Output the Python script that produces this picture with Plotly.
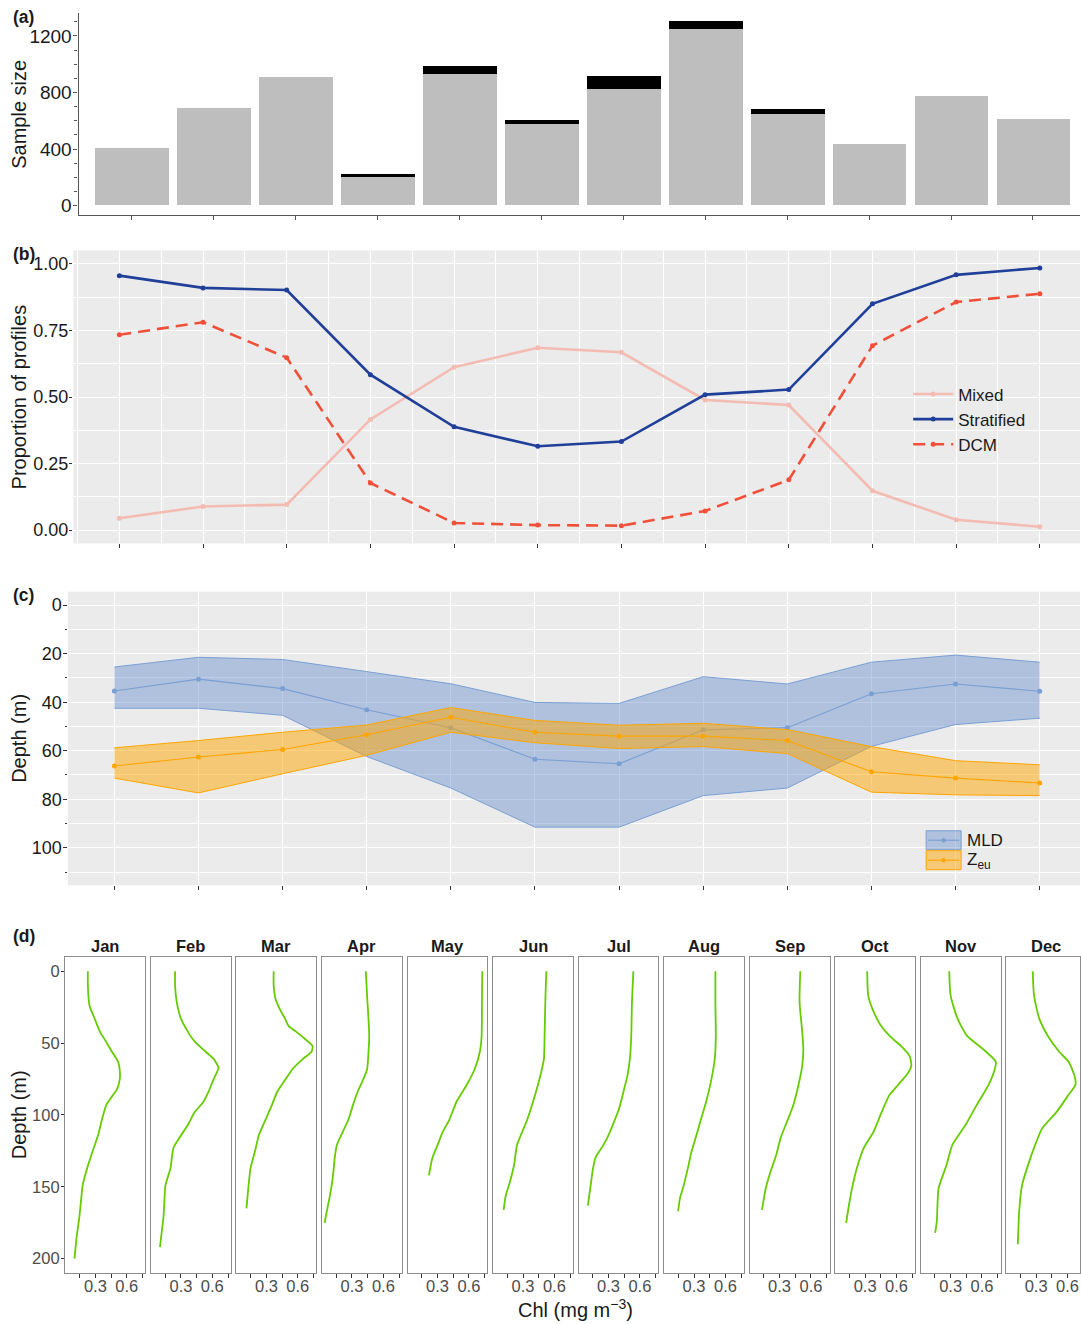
import plotly.graph_objects as go

W, H = 1081, 1324
FONT = "Liberation Sans, Arial, Helvetica, sans-serif"

# ---------------- data ----------------
months = list(range(1, 13))
month_labels = ["Jan", "Feb", "Mar", "Apr", "May", "Jun", "Jul", "Aug", "Sep", "Oct", "Nov", "Dec"]

# (a) sample size
n_main = [407, 689, 908, 207, 927, 572, 824, 1245, 649, 435, 774, 614]
n_extra = [0, 0, 0, 12, 59, 35, 94, 56, 33, 0, 0, 0]

# (b) proportion of profiles
prop_mixed = [0.045, 0.089, 0.096, 0.416, 0.612, 0.685, 0.668, 0.489, 0.470, 0.148, 0.039, 0.013]
prop_strat = [0.956, 0.910, 0.902, 0.584, 0.388, 0.315, 0.333, 0.509, 0.528, 0.850, 0.959, 0.985]
prop_dcm = [0.734, 0.781, 0.648, 0.177, 0.027, 0.019, 0.017, 0.072, 0.189, 0.693, 0.857, 0.888]

# (c) depths (m)
mld_med = [35.4, 30.5, 34.4, 43.1, 50.5, 63.5, 65.4, 51.4, 50.5, 36.5, 32.5, 35.5]
mld_lo = [25.5, 21.5, 22.4, 27.4, 32.4, 40.1, 40.5, 29.5, 32.5, 23.5, 20.6, 23.5]
mld_hi = [42.5, 42.5, 45.4, 62.4, 75.4, 91.5, 91.5, 78.5, 75.4, 58.2, 49.2, 46.6]
zeu_med = [66.3, 62.6, 59.5, 53.4, 46.2, 52.4, 54.0, 54.0, 55.8, 68.7, 71.3, 73.3]
zeu_lo = [58.8, 55.8, 52.4, 49.4, 42.2, 47.5, 49.5, 48.7, 51.3, 58.3, 64.1, 65.8]
zeu_hi = [71.3, 77.4, 69.5, 61.9, 52.4, 56.7, 59.1, 58.3, 61.2, 77.1, 78.2, 78.5]

# (d) mean chlorophyll profiles
jan_depth = [0, 10, 24, 33, 42, 49, 56, 63, 70, 75, 82, 89, 93, 103, 114, 126, 137, 149, 160, 172, 184, 200]
jan_chl = [0.228, 0.228, 0.244, 0.293, 0.343, 0.402, 0.458, 0.517, 0.534, 0.533, 0.507, 0.44, 0.405, 0.363, 0.326, 0.27, 0.221, 0.178, 0.162, 0.145, 0.122, 0.10]
feb_depth = [0, 10, 21.5, 33, 42, 49, 56, 61, 67, 70, 75, 84, 91, 98, 107, 116, 123, 137, 149, 160, 172, 184, 192]
feb_chl = [0.244, 0.244, 0.26, 0.30, 0.366, 0.432, 0.537, 0.613, 0.659, 0.646, 0.613, 0.563, 0.514, 0.432, 0.366, 0.284, 0.228, 0.20, 0.152, 0.142, 0.132, 0.112, 0.10]
mar_depth = [0, 10, 19, 26, 33, 38, 42, 47, 52, 56, 61, 68, 75, 84, 93, 103, 114, 126, 137, 149, 165]
mar_chl = [0.369, 0.369, 0.386, 0.425, 0.478, 0.511, 0.583, 0.666, 0.741, 0.731, 0.649, 0.55, 0.484, 0.402, 0.353, 0.293, 0.228, 0.188, 0.148, 0.129, 0.109]
apr_depth = [0, 21.5, 33, 45, 56, 68, 75, 84, 93, 103, 112, 121, 130, 140, 149, 160, 172, 175]
apr_chl = [0.432, 0.448, 0.458, 0.465, 0.458, 0.445, 0.409, 0.353, 0.31, 0.267, 0.211, 0.155, 0.135, 0.122, 0.106, 0.079, 0.046, 0.040]
may_depth = [0, 21.5, 45, 56, 68, 79, 91, 103, 112, 121, 130, 142]
may_chl = [0.728, 0.725, 0.722, 0.705, 0.656, 0.58, 0.481, 0.415, 0.349, 0.30, 0.251, 0.218]
jun_depth = [0, 19, 42, 61, 68, 79, 91, 103, 113, 121, 135, 147, 156, 166]
jun_chl = [0.523, 0.514, 0.507, 0.50, 0.481, 0.443, 0.395, 0.342, 0.285, 0.242, 0.214, 0.173, 0.135, 0.115]
jul_depth = [0, 21.5, 45, 61, 72.5, 84, 96, 107, 114, 121, 130, 137, 149, 163]
jul_chl = [0.537, 0.524, 0.517, 0.504, 0.481, 0.442, 0.399, 0.34, 0.30, 0.25, 0.174, 0.152, 0.129, 0.102]
aug_depth = [0, 21.5, 45, 61, 77, 91, 103, 114, 126, 137, 149, 158, 167]
aug_chl = [0.504, 0.504, 0.508, 0.498, 0.461, 0.415, 0.366, 0.323, 0.274, 0.241, 0.201, 0.165, 0.148]
sep_depth = [0, 21.5, 40, 54, 65.5, 79, 93, 105, 116, 128, 140, 151, 166]
sep_chl = [0.498, 0.491, 0.514, 0.527, 0.517, 0.481, 0.432, 0.369, 0.31, 0.267, 0.211, 0.168, 0.132]
oct_depth = [0, 17, 26, 38, 45, 52, 59, 65.5, 71, 79, 86, 98, 112, 123, 137, 149, 163, 175]
oct_chl = [0.32, 0.33, 0.369, 0.452, 0.534, 0.643, 0.725, 0.742, 0.709, 0.616, 0.534, 0.458, 0.379, 0.287, 0.221, 0.181, 0.145, 0.119]
nov_depth = [0, 17, 33, 45, 54, 63, 70, 79, 93, 107, 121, 135, 151, 174, 182]
nov_chl = [0.287, 0.30, 0.366, 0.458, 0.607, 0.732, 0.715, 0.663, 0.55, 0.442, 0.316, 0.26, 0.185, 0.168, 0.152]
dec_depth = [0, 17, 33, 45, 56, 63, 72.5, 79, 86, 98, 109.5, 121, 133, 149, 167, 190]
dec_chl = [0.267, 0.28, 0.33, 0.412, 0.521, 0.61, 0.666, 0.676, 0.61, 0.494, 0.356, 0.29, 0.231, 0.165, 0.138, 0.125]

profiles = [
    (jan_depth, jan_chl), (feb_depth, feb_chl), (mar_depth, mar_chl), (apr_depth, apr_chl),
    (may_depth, may_chl), (jun_depth, jun_chl), (jul_depth, jul_chl), (aug_depth, aug_chl),
    (sep_depth, sep_chl), (oct_depth, oct_chl), (nov_depth, nov_chl), (dec_depth, dec_chl),
]

# ---------------- helpers ----------------
def dx(x0, x1):
    return [max(x0 / W, 0), min(x1 / W, 1)]


def dy(y0, y1):
    return [1 - y1 / H, 1 - y0 / H]


def px_x(x):
    return x / W


def px_y(y):
    return 1 - y / H


BLACK = "#1a1a1a"
GRAY_TXT = "#4d4d4d"
TICKC = "#333333"

fig = go.Figure()

# ---------------- (a) ----------------
fig.add_trace(go.Bar(x=months, y=n_main, width=0.9, marker=dict(color="#BEBEBE", line=dict(width=0)),
                     xaxis="x", yaxis="y", showlegend=False, hoverinfo="x+y"))
fig.add_trace(go.Bar(x=months, y=n_extra, width=0.9, marker=dict(color="#000000", line=dict(width=0)),
                     xaxis="x", yaxis="y", showlegend=False, hoverinfo="x+y"))

# ---------------- (b) ----------------
fig.add_trace(go.Scatter(x=months, y=prop_mixed, mode="lines+markers", name="Mixed",
                         line=dict(color="#F4BBB3", width=2.6), marker=dict(size=5, color="#F4BBB3"),
                         xaxis="x2", yaxis="y2"))
fig.add_trace(go.Scatter(x=months, y=prop_strat, mode="lines+markers", name="Stratified",
                         line=dict(color="#1F3F99", width=2.6), marker=dict(size=5, color="#1F3F99"),
                         xaxis="x2", yaxis="y2"))
fig.add_trace(go.Scatter(x=months, y=prop_dcm, mode="lines+markers", name="DCM",
                         line=dict(color="#F05039", width=2.6, dash="12px,7px"),
                         marker=dict(size=5, color="#F05039"),
                         xaxis="x2", yaxis="y2"))

# ---------------- (c) ----------------
MLD_LINE = "#7A9FD4"
MLD_FILL = "rgba(92,137,200,0.42)"
ZEU_LINE = "#FFA500"
ZEU_FILL = "rgba(255,165,0,0.5)"

fig.add_trace(go.Scatter(x=months, y=mld_hi, mode="lines", line=dict(color=MLD_LINE, width=1),
                         xaxis="x3", yaxis="y3", showlegend=False, hoverinfo="skip"))
fig.add_trace(go.Scatter(x=months, y=mld_lo, mode="lines", line=dict(color=MLD_LINE, width=1),
                         fill="tonexty", fillcolor=MLD_FILL, name="MLD",
                         xaxis="x3", yaxis="y3", showlegend=False))
fig.add_trace(go.Scatter(x=months, y=mld_med, mode="lines+markers", line=dict(color=MLD_LINE, width=1.1),
                         marker=dict(size=5, color=MLD_LINE), xaxis="x3", yaxis="y3", showlegend=False))
fig.add_trace(go.Scatter(x=months, y=zeu_hi, mode="lines", line=dict(color=ZEU_LINE, width=1),
                         xaxis="x3", yaxis="y3", showlegend=False, hoverinfo="skip"))
fig.add_trace(go.Scatter(x=months, y=zeu_lo, mode="lines", line=dict(color=ZEU_LINE, width=1),
                         fill="tonexty", fillcolor=ZEU_FILL, name="Z<sub>eu</sub>",
                         xaxis="x3", yaxis="y3", showlegend=False))
fig.add_trace(go.Scatter(x=months, y=zeu_med, mode="lines+markers", line=dict(color=ZEU_LINE, width=1.1),
                         marker=dict(size=5, color=ZEU_LINE), xaxis="x3", yaxis="y3", showlegend=False))

# ---------------- (d) ----------------
D_LEFT0, D_STEP, D_W = 65.5, 85.6, 80.0
PX_PER_CHL = 104.7
layout_axes = {}
annotations = []
for i, (dep, chl) in enumerate(profiles):
    n = 4 + i
    fig.add_trace(go.Scatter(x=chl, y=dep, mode="lines",
                             line=dict(color="#66CC00", width=1.8, shape="spline", smoothing=0.6),
                             xaxis=f"x{n}", yaxis=f"y{n}", showlegend=False))
    left = D_LEFT0 + i * D_STEP
    right = left + D_W
    tick03 = left + 30
    r0 = 0.3 - 30 / PX_PER_CHL
    r1 = 0.3 + (min(right, W) - tick03) / PX_PER_CHL
    layout_axes[f"xaxis{n}"] = dict(
        domain=dx(left, min(right, W)), anchor=f"y{n}", range=[r0, r1],
        tickvals=[0.3, 0.6], ticktext=["0.3", "0.6"], ticks="outside", ticklen=3.5,
        tickcolor=TICKC, tickwidth=1, ticklabelstandoff=-5,
        minor=dict(tickvals=[0.15, 0.45, 0.75], ticks="outside", ticklen=3.5, tickcolor=TICKC, showgrid=False),
        showline=True, mirror=True, linecolor="#8c8c8c", linewidth=1,
        showgrid=False, zeroline=False, tickfont=dict(size=16.5, color=GRAY_TXT),
    )
    ycfg = dict(
        domain=dy(958.3, 1275), anchor=f"x{n}", range=[210, -10],
        showline=True, mirror=True, linecolor="#8c8c8c", linewidth=1,
        showgrid=False, zeroline=False,
    )
    if i == 0:
        ycfg.update(tickvals=[0, 50, 100, 150, 200], ticks="outside", ticklen=3.5, tickcolor=TICKC,
                    ticklabelstandoff=-2, tickfont=dict(size=16.5, color=GRAY_TXT))
    else:
        ycfg.update(showticklabels=False, ticks="")
    layout_axes[f"yaxis{n}"] = ycfg
    annotations.append(dict(text=f"<b>{month_labels[i]}</b>", x=px_x(left + D_W / 2), y=px_y(947),
                            xref="paper", yref="paper", showarrow=False, xanchor="center", yanchor="middle",
                            font=dict(size=16.5, color=BLACK)))

# ---------------- panel (c) legend keys ----------------
shapes = [
    dict(type="rect", xref="x2 domain", yref="y2 domain", x0=0, x1=1, y0=0, y1=1,
         fillcolor="#EBEBEB", line=dict(width=0), layer="below"),
    dict(type="rect", xref="x3 domain", yref="y3 domain", x0=0, x1=1, y0=0, y1=1,
         fillcolor="#EBEBEB", line=dict(width=0), layer="below"),
]
for (ytop, fillc, linec, label) in [(832, MLD_FILL, MLD_LINE, "MLD"), (852, ZEU_FILL, ZEU_LINE, "Z<sub>eu</sub>")]:
    ymid = ytop + 9.5
    shapes.append(dict(type="rect", xref="paper", yref="paper", x0=px_x(927), x1=px_x(962),
                       y0=px_y(ytop + 19), y1=px_y(ytop), fillcolor=fillc, line=dict(color=linec, width=1),
                       layer="above"))
    shapes.append(dict(type="line", xref="paper", yref="paper", x0=px_x(929), x1=px_x(960),
                       y0=px_y(ymid), y1=px_y(ymid), line=dict(color=linec, width=1.1), layer="above"))
    shapes.append(dict(type="circle", xref="paper", yref="paper", x0=px_x(942.3), x1=px_x(946.7),
                       y0=px_y(ymid + 2.2), y1=px_y(ymid - 2.2), fillcolor=linec, line=dict(width=0),
                       layer="above"))
    annotations.append(dict(text=label, x=px_x(966), y=px_y(ymid + (1 if "eu" in label else 0)),
                            xref="paper", yref="paper", showarrow=False, xanchor="left", yanchor="middle",
                            font=dict(size=17, color=BLACK)))

# ---------------- layout ----------------
layout = dict(
    width=W, height=H, margin=dict(l=0, r=0, t=0, b=0), autosize=False,
    paper_bgcolor="white", plot_bgcolor="white",
    font=dict(family=FONT, color=BLACK),
    barmode="stack", bargap=0,
    xaxis=dict(domain=dx(78.6, W), anchor="y", range=[0.35, 12.574], tickvals=months,
               showticklabels=False, ticks="outside", ticklen=4, tickcolor="#555555",
               showline=True, linecolor="#555555", linewidth=1.1, showgrid=False, zeroline=False),
    yaxis=dict(domain=dy(13.3, 215), anchor="x", range=[-63.5, 1360], tickvals=[0, 400, 800, 1200],
               ticks="outside", ticklen=4, tickcolor="#555555", ticklabelstandoff=-2,
               minor=dict(dtick=100, tick0=0, ticks="outside", ticklen=3, tickcolor="#555555", showgrid=False),
               showline=True, linecolor="#555555", linewidth=1.1, showgrid=False, zeroline=False,
               tickfont=dict(size=19, color=BLACK)),
    xaxis2=dict(domain=dx(73.4, W), anchor="y2", range=[0.45, 12.48], tickvals=months,
                showticklabels=False, ticks="outside", ticklen=3.5, tickcolor=TICKC,
                showgrid=True, gridcolor="white", gridwidth=1.2, zeroline=False,
                minor=dict(tickvals=[m + 0.5 for m in range(0, 13)], showgrid=True, gridcolor="white",
                           gridwidth=0.55, ticks="")),
    yaxis2=dict(domain=dy(251, 544.3), anchor="x2", range=[-0.05, 1.05],
                tickvals=[0, 0.25, 0.5, 0.75, 1.0], ticktext=["0.00", "0.25", "0.50", "0.75", "1.00"],
                ticks="outside", ticklen=3.5, tickcolor=TICKC, ticklabelstandoff=-3,
                showgrid=True, gridcolor="white", gridwidth=1.2, zeroline=False,
                minor=dict(tickvals=[0.125, 0.375, 0.625, 0.875], showgrid=True, gridcolor="white",
                           gridwidth=0.55, ticks=""),
                tickfont=dict(size=18, color=BLACK)),
    xaxis3=dict(domain=dx(67.9, W), anchor="y3", range=[0.447, 12.479], tickvals=months,
                showticklabels=False, ticks="outside", ticklen=3.5, tickcolor=TICKC,
                showgrid=True, gridcolor="white", gridwidth=1.2, zeroline=False),
    yaxis3=dict(domain=dy(592.7, 886.7), anchor="x3", range=[115.5, -5.5],
                tickvals=[0, 20, 40, 60, 80, 100], ticks="outside", ticklen=3.5, tickcolor=TICKC,
                ticklabelstandoff=-2,
                showgrid=True, gridcolor="white", gridwidth=1.2, zeroline=False,
                minor=dict(tickvals=[10, 30, 50, 70, 90, 110], showgrid=True, gridcolor="white",
                           gridwidth=0.55, ticks="outside", ticklen=2, tickcolor=TICKC),
                tickfont=dict(size=18, color=BLACK)),
    legend=dict(x=px_x(909), y=px_y(377), xanchor="left", yanchor="top", bgcolor="rgba(0,0,0,0)",
                font=dict(size=17, color=BLACK), itemwidth=40, tracegroupgap=0, traceorder="normal"),
    shapes=shapes,
)
layout.update(layout_axes)

# panel labels and axis titles
for lab, yy in [("(a)", 17), ("(b)", 254), ("(c)", 596), ("(d)", 937)]:
    annotations.append(dict(text=f"<b>{lab}</b>", x=px_x(11), y=px_y(yy), xref="paper", yref="paper",
                            showarrow=False, xanchor="left", yanchor="middle", font=dict(size=17.5, color=BLACK)))
for txt, yy in [("Sample size", 114), ("Proportion of profiles", 397), ("Depth (m)", 739), ("Depth (m)", 1116)]:
    annotations.append(dict(text=txt, x=px_x(19), y=px_y(yy), xref="paper", yref="paper", showarrow=False,
                            textangle=-90, xanchor="center", yanchor="middle", font=dict(size=20, color=BLACK)))
annotations.append(dict(text="Chl (mg m<sup>\u22123</sup>)", x=px_x(576), y=px_y(1310), xref="paper", yref="paper",
                        showarrow=False, xanchor="center", yanchor="middle", font=dict(size=20, color=BLACK)))
layout["annotations"] = annotations

fig.update_layout(**layout)

fig.write_html("out.html", config={"displayModeBar": False},
               post_script="document.body.style.margin='0';document.body.style.overflow='hidden';")
